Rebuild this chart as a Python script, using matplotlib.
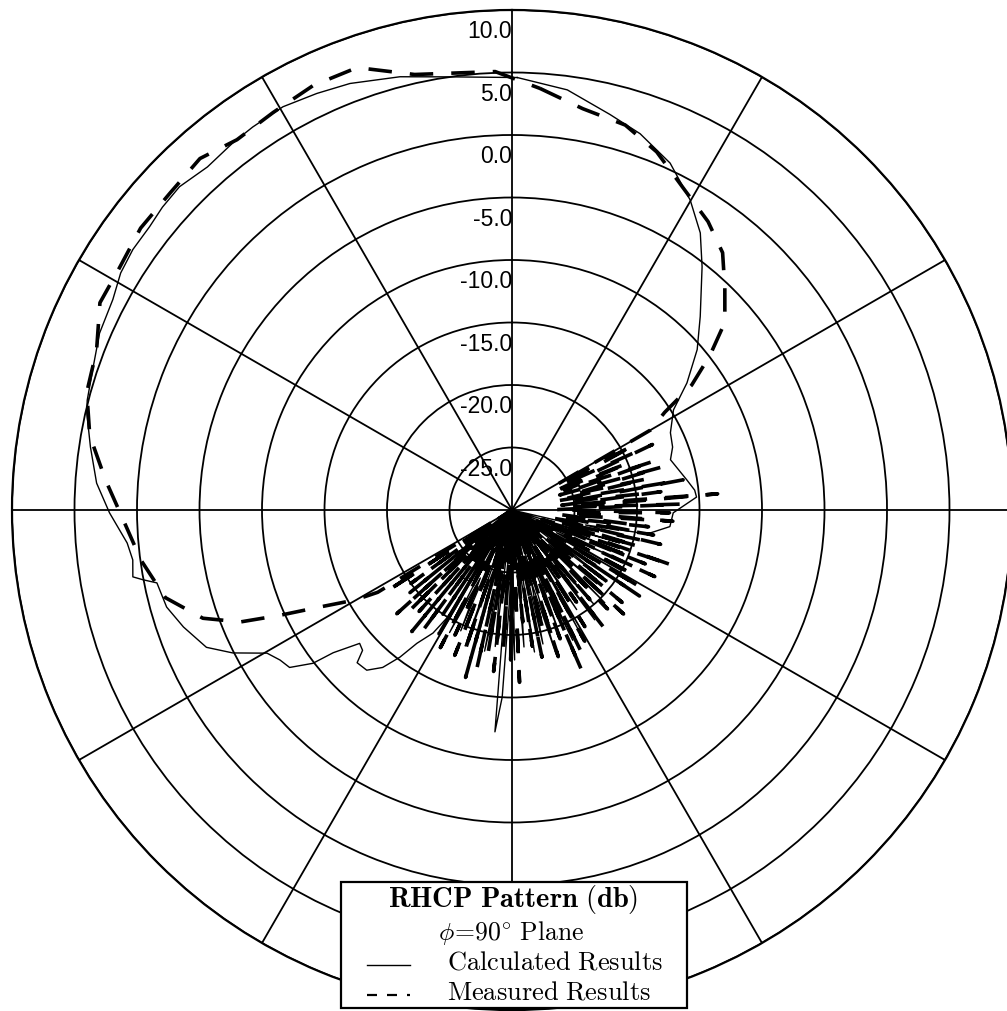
import numpy as np
import matplotlib
matplotlib.use("Agg")
import matplotlib.pyplot as plt
from matplotlib.patches import Rectangle
from matplotlib.lines import Line2D

plt.rcParams['mathtext.fontset'] = 'cm'

# ---------------- data (angle in degrees clockwise from top, value in dB) ----------------
ring_values = [-25.0, -20.0, -15.0, -10.0, -5.0, 0.0, 5.0, 10.0]
ring_labels = ["-25.0", "-20.0", "-15.0", "-10.0", "-5.0", "0.0", "5.0", "10.0"]
spoke_angles = [0, 30, 60, 90, 120, 150, 180, 210, 240, 270, 300, 330]

calc_az = [0.7, 7.5, 13.9, 18.8, 24.5, 29.9, 34.2, 38.0, 44.2, 49.1, 54.0, 58.2,
           64.0, 68.6, 72.4, 80.3, 83.8, 86.0, 91.0, 96.0, 100.0,
           101.5, 103, 105, 107, 109, 111, 113, 115, 117, 119, 121, 123, 125, 127,
           129, 131, 133, 135, 137, 139, 141, 143, 145, 147, 149, 151, 153, 155,
           157, 159, 161, 163, 165, 167, 169, 171, 173, 175, 177, 179, 181, 183,
           184.4, 185.5, 187, 189, 191, 193, 195, 197, 199, 201, 203, 205, 207,
           209, 211,
           212.7, 215.5, 217.3, 219.4, 222.2, 225.4, 226.8, 228.8, 231.4, 232.4,
           234.7, 237.1, 239.7, 242.9, 245.8, 250.4, 254.3, 258.4, 259.3, 260.0,
           262.5, 265.1, 269.6, 273.7, 278.5, 282.9, 284.5, 288.8, 293.2, 297.8,
           301.2, 304.5, 308.0, 310.9, 314.2, 318.4, 322.8, 325.9, 330.4, 334.9,
           339.2, 345.5, 351.9, 360.7]
calc_db = [4.6, 3.9, 2.6, 1.8, 0.5, -1.4, -3.2, -5.3, -8.4, -10.4, -12.7, -14.8,
           -15.9, -16.2, -16.7, -15.8, -15.3, -15.2, -17.1, -17.3, -19.0,
           -24, -20, -30, -21, -27, -20.5, -30, -21.5, -26, -20, -30, -22, -25, -20.5,
           -30, -21, -26, -19.5, -30, -20, -25, -19, -30, -20.5, -26, -19, -30, -18.5,
           -25, -19.5, -30, -18, -24, -19, -30, -18.5, -25, -19, -30, -18, -24, -15,
           -12.2, -30, -19, -24, -18.5, -30, -19, -25, -18.5, -30, -19.5, -24, -19,
           -30, -20,
           -18.3, -16.9, -15.2, -13.7, -12.7, -12.6, -13.6, -13.8, -11.7, -9.9,
           -8.2, -7.9, -7.3, -4.9, -3.2, -2.1, -1.3, -1.0, 0.05, 0.8,
           0.6, 0.9, 2.2, 3.3, 4.1, 4.9, 5.1, 5.4, 5.9, 6.1,
           6.6, 6.8, 6.8, 7.0, 7.1, 6.7, 6.9, 7.0, 7.1, 6.8,
           6.5, 5.8, 5.0, 4.6]

meas_az = [3.8, 10.0, 16.4, 22.0, 27.9, 34.2, 39.3, 43.8, 48.6, 52.0, 55.2, 57.4, 60.0,
           60.5, 62, 63.5, 65, 66.5, 68, 69.5, 71, 72.5, 74, 75.5, 77, 78.5, 80, 81.5,
           83, 84.5, 85.5, 87, 88, 89.5, 91, 92.5, 94, 95.5, 97, 98.5, 100, 101.5,
           103, 104.5, 106, 107.5, 109, 110.5, 112, 113.5, 115, 116.5, 118, 119.5,
           121, 122.5, 124, 125.5, 127, 128.5, 130, 131.5, 133, 134.5, 136, 137.5,
           139, 140.5, 142, 143.5, 145, 146.5, 148, 149.5, 151, 152.5, 154, 155.5,
           156.5, 158, 159.5, 161, 162.5, 164, 165.5, 167, 168.5, 170, 171.5, 173,
           174.5, 176, 177.5, 179, 180.5, 182, 183.5, 185, 186.5, 188, 189.5, 191,
           192.5, 194, 195.5, 197, 198.5, 200, 201.5, 203, 204.5, 206, 207.5, 209,
           210.5, 212, 213.5, 215, 216.5, 218, 219.5, 221, 222.5, 224, 225.5, 227,
           228, 229.5, 231, 232.5, 234, 235.5, 237, 238.0,
           238.5, 240.2, 243.2, 245.6, 247.6, 250.7, 255.8, 262.3, 268.5, 274.2,
           280.0, 285.5, 291.0, 296.7, 301.7, 307.2, 312.8, 318.4, 323.4, 329.0,
           334.9, 340.7, 347.4, 357.8, 363.8]
meas_db = [3.8, 2.6, 2.1, 0.9, -0.8, -2.1, -3.4, -5.4, -7.3, -9.9, -12.5, -15.5, -17.2,
           -26, -19, -25.5, -17.6, -26.5, -20, -25.5, -18, -26, -17.6, -25, -19, -26.5, -16.1, -25.5,
           -18, -26, -13.5, -25.5, -16.5, -26.5, -17.4, -25.5, -17.1, -26, -19, -25.5, -18.5, -27,
           -17.8, -26, -19.5, -27.5, -16.4, -26.5, -18.5, -28, -17.4, -27.5, -19, -30,
           -18, -30, -17.7, -30, -20, -30, -18.5, -30, -17.8, -30, -19, -30,
           -20.5, -30, -18, -30, -21, -30, -19, -30, -18, -30, -17.4, -30,
           -16, -30, -19, -30, -17.7, -30, -20, -30, -18, -30, -19, -30,
           -21, -30, -16.2, -30, -18, -30, -19, -30, -17, -30, -18.5, -30,
           -17, -30, -16.1, -30, -18, -30, -17.5, -30, -19, -30, -17.6, -30,
           -18.5, -30, -20, -30, -18, -30, -17.4, -30, -19, -30, -18.5, -30,
           -17.6, -30, -19.5, -30, -20, -30, -18, -30,
           -17.4, -15.5, -12.8, -9.6, -6.5, -3.8, -1.4, -0.05, 1.1, 2.6,
           4.3, 5.3, 5.6, 6.9, 6.9, 7.3, 7.3, 7.6, 6.9, 7.1,
           7.5, 7.5, 5.7, 5.1, 3.8]

# ---------------- figure ----------------
W, H = 1007, 1011
fig = plt.figure(figsize=(W / 100, H / 100), dpi=100)
cx, cy, R = 512, 510, 500
ax = fig.add_axes([(cx - R) / W, (H - cy - R) / H, 2 * R / W, 2 * R / H], projection='polar')
ax.set_theta_zero_location('N')
ax.set_theta_direction(-1)
ax.set_ylim(-30, 10)
ax.set_xticks(np.deg2rad(spoke_angles))
ax.set_xticklabels([])
ax.set_yticks(ring_values)
ax.set_yticklabels([])
ax.grid(True, color='black', linewidth=1.3)
ax.spines['polar'].set_linewidth(1.6)
ax.spines['polar'].set_color('black')
ax.tick_params(length=0)

for v, lab in zip(ring_values, ring_labels):
    ax.text(0, v - 1.75, lab, ha='right', va='center',
            fontsize=16.5, family=['Liberation Sans', 'DejaVu Sans'], color='black',
            zorder=5)

ax.plot(np.deg2rad(calc_az), calc_db, color='black', linewidth=1.0, zorder=3)
ax.plot(np.deg2rad(meas_az), meas_db, color='black', linewidth=2.6,
        linestyle=(0, (6.5, 5)), zorder=4)

# ---------------- legend box ----------------
bx0, bx1, by0, by1 = 341, 687, 882, 1008
fig.add_artist(Rectangle((bx0 / W, 1 - by1 / H), (bx1 - bx0) / W, (by1 - by0) / H,
                         transform=fig.transFigure, facecolor='white', edgecolor='black',
                         linewidth=1.6, zorder=10))
fig.text(513 / W, 1 - 900 / H, r'$\mathbf{RHCP\ Pattern\ (db)}$', ha='center', va='center',
         fontsize=20.5, zorder=11)
fig.text(511 / W, 1 - 933 / H, r'$\phi\!=\!90^{\circ}\ \mathrm{Plane}$', ha='center', va='center',
         fontsize=18.5, zorder=11)
fig.text(447 / W, 1 - 963 / H, r'$\mathrm{Calculated\ Results}$', ha='left', va='center',
         fontsize=19, zorder=11)
fig.text(447 / W, 1 - 993 / H, r'$\mathrm{Measured\ Results}$', ha='left', va='center',
         fontsize=19, zorder=11)
fig.add_artist(Line2D([367 / W, 410 / W], [1 - 965 / H, 1 - 965 / H], transform=fig.transFigure,
                      color='black', linewidth=1.0, zorder=11))
fig.add_artist(Line2D([367 / W, 410 / W], [1 - 995 / H, 1 - 995 / H], transform=fig.transFigure,
                      color='black', linewidth=1.6, linestyle=(0, (4.5, 4.5)), zorder=11))

fig.savefig('out.png', dpi=100, facecolor='white')
